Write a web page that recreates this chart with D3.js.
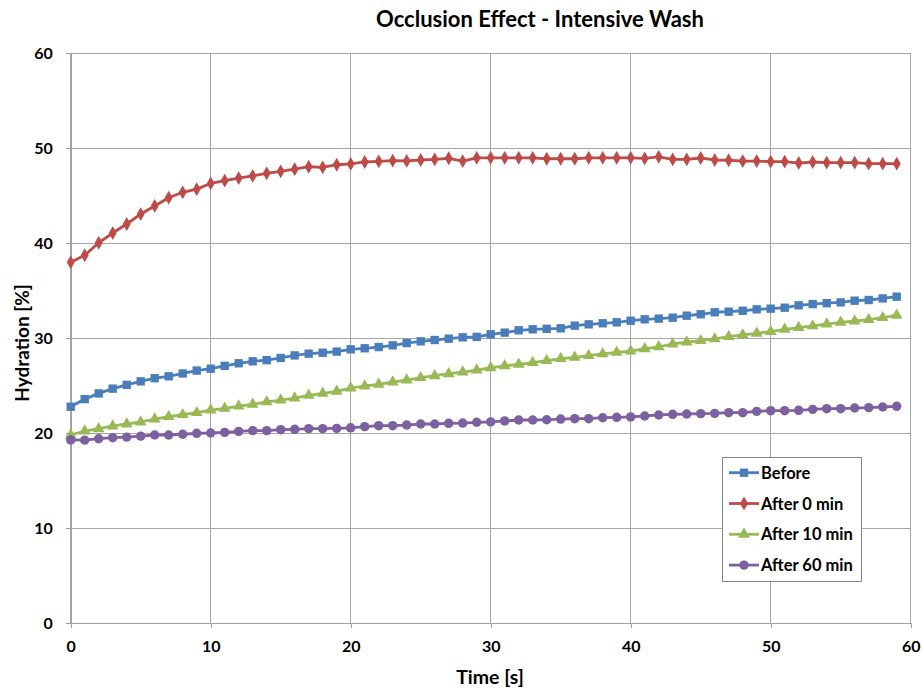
<!DOCTYPE html>
<html><head><meta charset="utf-8">
<script src="https://cdn.jsdelivr.net/npm/d3@7"></script>
<style>body{margin:0;background:#fff}svg{display:block}text{font-family:Lato,"Open Sans",sans-serif;font-weight:bold;fill:#000}</style>
</head><body><svg id="c" width="922" height="689"></svg>
<script>
const title = "Occlusion Effect - Intensive Wash";
const xLabel = "Time [s]";
const yLabel = "Hydration [%]";
const times = d3.range(0, 60);
const xTicks = [0, 10, 20, 30, 40, 50, 60];
const yTicks = [0, 10, 20, 30, 40, 50, 60];
const seriesNames = ["Before", "After 0 min", "After 10 min", "After 60 min"];
const before = [22.8,23.6,24.2,24.7,25.1,25.47,25.8,26.0,26.3,26.6,26.8,27.1,27.37,27.58,27.7,27.93,28.2,28.38,28.48,28.6,
 28.84,28.95,29.08,29.26,29.5,29.68,29.82,29.96,30.1,30.15,30.42,30.6,30.84,30.95,31.0,31.05,31.33,31.47,31.58,31.68,
 31.85,32.0,32.07,32.17,32.38,32.53,32.74,32.8,32.9,33.05,33.12,33.22,33.47,33.6,33.7,33.78,33.96,34.03,34.2,34.38];
const after0 = [38.0,38.74,40.06,41.08,42.03,43.08,43.93,44.8,45.37,45.7,46.3,46.6,46.87,47.1,47.37,47.58,47.8,48.06,48.0,48.27,
 48.36,48.56,48.63,48.7,48.67,48.77,48.84,48.95,48.66,49.0,49.0,49.0,49.0,49.0,48.9,48.9,48.9,49.0,49.0,49.0,
 49.0,48.93,49.1,48.84,48.84,48.98,48.77,48.74,48.66,48.66,48.6,48.6,48.45,48.56,48.5,48.5,48.5,48.38,48.38,48.38];
const after10 = [19.82,20.24,20.48,20.77,20.98,21.19,21.5,21.75,21.96,22.17,22.45,22.63,22.87,23.05,23.3,23.5,23.7,24.0,24.2,24.42,
 24.76,24.98,25.16,25.4,25.6,25.85,26.06,26.27,26.45,26.66,26.9,27.1,27.26,27.43,27.64,27.85,28.0,28.17,28.35,28.52,
 28.66,28.9,29.1,29.4,29.6,29.75,29.93,30.17,30.35,30.52,30.7,30.95,31.12,31.3,31.5,31.68,31.82,31.96,32.17,32.42];
const after60 = [19.3,19.28,19.43,19.54,19.6,19.7,19.82,19.82,19.9,20.0,20.03,20.1,20.2,20.28,20.28,20.38,20.42,20.49,20.49,20.52,
 20.58,20.7,20.8,20.8,20.87,20.98,20.98,21.05,21.08,21.16,21.2,21.3,21.4,21.4,21.43,21.5,21.54,21.54,21.64,21.68,
 21.72,21.82,21.93,22.0,22.03,22.07,22.1,22.17,22.17,22.31,22.38,22.38,22.42,22.52,22.59,22.59,22.66,22.7,22.77,22.84];
const seriesValues = [before, after0, after10, after60];
const colors = ["#4a7ebb", "#be4b48", "#98b954", "#7d60a0"];
const shapes = [d3.symbolSquare, d3.symbolDiamond, d3.symbolTriangle, d3.symbolCircle];
const sizes = [70, 55, 60, 70];

const svg = d3.select("#c");
const L = 70.7, R = 910.7, T = 53.3, B = 623.3;
const x = d3.scaleLinear().domain([0, 60]).range([L, R]);
const y = d3.scaleLinear().domain([0, 60]).range([B, T]);

// gridlines
const g = svg.append("g");
g.selectAll(".gx").data(xTicks).join("line").attr("x1", d => x(d)).attr("x2", d => x(d))
  .attr("y1", T).attr("y2", B).attr("stroke", "#a6a6a6").attr("stroke-width", 1).attr("shape-rendering", "crispEdges");
g.selectAll(".gy").data(yTicks).join("line").attr("y1", d => y(d)).attr("y2", d => y(d))
  .attr("x1", L).attr("x2", R).attr("stroke", "#a6a6a6").attr("stroke-width", 1).attr("shape-rendering", "crispEdges");

// axes
const xAxis = svg.append("g").attr("transform", `translate(0,${B})`)
  .call(d3.axisBottom(x).tickValues(xTicks).tickSize(5).tickPadding(12));
const yAxis = svg.append("g").attr("transform", `translate(${L},0)`)
  .call(d3.axisLeft(y).tickValues(yTicks).tickSize(5).tickPadding(13));
[xAxis, yAxis].forEach(a => {
  a.selectAll("path,line").attr("stroke", "#a0a0a0").attr("shape-rendering", "crispEdges");
  a.selectAll("text").style("font-size", "16px").style("font-family", "Lato, sans-serif").style("font-weight", "bold").attr("fill", "#000");
});
yAxis.selectAll("text").attr("dy", "0.35em");

// series
const line = d3.line().x((d, i) => x(times[i])).y(d => y(d));
seriesValues.forEach((vals, k) => {
  svg.append("path").datum(vals).attr("d", line).attr("fill", "none")
    .attr("stroke", colors[k]).attr("stroke-width", 2.8).attr("stroke-linejoin", "round");
  svg.append("g").selectAll("path").data(vals).join("path")
    .attr("transform", (d, i) => `translate(${x(times[i])},${y(d)})`)
    .attr("d", d3.symbol().type(shapes[k]).size(sizes[k])).attr("fill", colors[k]);
});

// title & labels
svg.append("text").attr("x", 540).attr("y", 27).attr("text-anchor", "middle").style("font-size", "22px").text(title);
svg.append("text").attr("x", 490).attr("y", 684).attr("text-anchor", "middle").style("font-size", "19.5px").text(xLabel);
svg.append("text").attr("transform", "translate(29,343) rotate(-90)").attr("text-anchor", "middle").style("font-size", "19px").text(yLabel);

// legend
const lg = svg.append("g");
lg.append("rect").attr("x", 722.5).attr("y", 457.5).attr("width", 139).attr("height", 124)
  .attr("fill", "#fff").attr("stroke", "#868686").attr("stroke-width", 1);
seriesNames.forEach((name, k) => {
  const yy = 472.7 + k * 30.8;
  lg.append("line").attr("x1", 729).attr("x2", 759).attr("y1", yy).attr("y2", yy)
    .attr("stroke", colors[k]).attr("stroke-width", 2.8);
  lg.append("path").attr("transform", `translate(744,${yy})`)
    .attr("d", d3.symbol().type(shapes[k]).size(sizes[k])).attr("fill", colors[k]);
  lg.append("text").attr("x", 761).attr("y", yy + 6).style("font-size", "16.5px").text(name);
});
</script></body></html>
